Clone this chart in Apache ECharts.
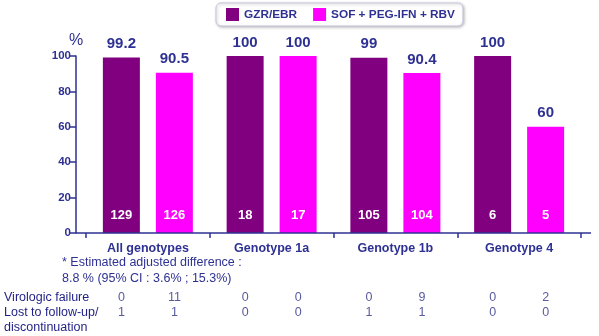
<!DOCTYPE html>
<html>
<head>
<meta charset="utf-8">
<script src="https://cdn.jsdelivr.net/npm/echarts@6/dist/echarts.min.js"></script>
<style>
  html, body { margin: 0; padding: 0; background: #fff; }
  #chart { width: 599px; height: 336px; }
</style>
</head>
<body>
<div id="chart"></div>
<script>
// SVR rates by genotype, two treatment arms
const categories = ['All genotypes', 'Genotype 1a', 'Genotype 1b', 'Genotype 4'];
const seriesNames = ['GZR/EBR', 'SOF + PEG-IFN + RBV'];
const gzrEbr = [99.2, 100, 99, 100];
const sofPegRbv = [90.5, 100, 90.4, 60];
// patients with SVR (count shown inside each bar)
const nGzrEbr = [129, 18, 105, 6];
const nSofPegRbv = [126, 17, 104, 5];
// outcome table under the chart
const rowLabels = ['Virologic failure', ['Lost to follow-up/', 'discontinuation']];
const virologicGzr = [0, 0, 0, 0];
const virologicSof = [11, 0, 9, 2];
const lostGzr = [1, 0, 1, 0];
const lostSof = [1, 0, 1, 0];
const yMin = 0, yMax = 100, yStep = 20;
const footnote = ['* Estimated adjusted difference :', '8.8 % (95% CI : 3.6% ; 15.3%)'];

const NAVY = '#2e3192';
const PURPLE = '#800080';
const MAGENTA = '#ff00ff';
const FONT = 'Liberation Sans, Arial, sans-serif';
const BAR_W = 37, BAR_GAP = 16;
const GRID = { left: 86, right: 18, top: 56, bottom: 103 };
const Y_OFFSET = 10;

const chart = echarts.init(document.getElementById('chart'), null, { renderer: 'canvas' });

const catAxis = (show) => ({
  type: 'category',
  data: categories,
  show: show,
  axisLine: { show: false },
  axisTick: { show: show, length: 5, lineStyle: { color: NAVY, width: 1.5 } },
  axisLabel: {
    show: show, margin: 9, color: NAVY, fontWeight: 'bold', fontSize: 12.5,
    fontFamily: FONT
  }
});

const mainBar = (name, data, color) => ({
  name: name,
  type: 'bar',
  xAxisIndex: 0,
  data: data,
  barWidth: BAR_W,
  barGap: (BAR_GAP / BAR_W * 100) + '%',
  itemStyle: { color: color },
  label: {
    show: true, position: 'top', distance: 6,
    color: NAVY, fontWeight: 'bold', fontSize: 15,
    fontFamily: FONT
  }
});

const countBar = (data, counts) => ({
  type: 'bar',
  xAxisIndex: 1,
  data: data,
  barWidth: BAR_W,
  barGap: (BAR_GAP / BAR_W * 100) + '%',
  silent: true,
  itemStyle: { color: 'rgba(0,0,0,0)' },
  label: {
    show: true, position: 'insideBottom', distance: 11,
    color: '#ffffff', fontWeight: 'bold', fontSize: 13,
    fontFamily: FONT,
    formatter: (p) => String(counts[p.dataIndex])
  }
});

chart.setOption({
  animation: false,
  backgroundColor: '#ffffff',
  grid: GRID,
  legend: {
    data: seriesNames,
    left: 216, top: 3,
    icon: 'rect', itemWidth: 13, itemHeight: 13, itemGap: 16,
    padding: [5, 8, 5, 10],
    backgroundColor: '#ffffff',
    borderColor: '#c6c6dc', borderWidth: 1, borderRadius: 5,
    shadowBlur: 3, shadowColor: 'rgba(0,0,0,0.25)', shadowOffsetX: 1, shadowOffsetY: 1,
    textStyle: { color: NAVY, fontWeight: 'bold', fontSize: 11.8, fontFamily: FONT }
  },
  xAxis: [catAxis(true), catAxis(false)],
  yAxis: {
    type: 'value', min: yMin, max: yMax, interval: yStep,
    offset: Y_OFFSET,
    name: '%', nameGap: 7,
    nameTextStyle: { color: NAVY, fontSize: 16, fontFamily: FONT, align: 'center' },
    splitLine: { show: false },
    axisLine: { show: true, lineStyle: { color: NAVY, width: 1.5 } },
    axisTick: { show: true, length: 6, lineStyle: { color: NAVY, width: 1.5 } },
    axisLabel: { margin: 5, color: NAVY, fontWeight: 'bold', fontSize: 11.5, fontFamily: FONT }
  },
  series: [
    mainBar(seriesNames[0], gzrEbr, PURPLE),
    mainBar(seriesNames[1], sofPegRbv, MAGENTA),
    countBar(gzrEbr, nGzrEbr),
    countBar(sofPegRbv, nSofPegRbv)
  ]
});

// x-axis baseline, table and footnote drawn once the scales are known
const zeroY = chart.convertToPixel({ yAxisIndex: 0 }, 0);
const axisX = GRID.left - Y_OFFSET;
const W = chart.getWidth();
const half = (BAR_W + BAR_GAP) / 2;
const graphics = [{
  type: 'line',
  shape: { x1: axisX, y1: zeroY, x2: W - GRID.right + 10, y2: zeroY },
  style: { stroke: NAVY, lineWidth: 1.5 },
  z: 10
}];

const textFont = '12.5px "Liberation Sans", Arial, sans-serif';
footnote.forEach((line, i) => {
  graphics.push({
    type: 'text', left: 62, top: 256 + i * 16,
    style: { text: line, font: textFont, fill: NAVY }
  });
});

const rows = [
  { label: rowLabels[0], a: virologicGzr, b: virologicSof, y: 298 },
  { label: rowLabels[1], a: lostGzr, b: lostSof, y: 313 }
];
rows.forEach((row) => {
  const lines = Array.isArray(row.label) ? row.label : [row.label];
  lines.forEach((t, k) => {
    graphics.push({
      type: 'text', x: 4, y: row.y + k * 15,
      style: { text: t, font: textFont, fill: '#1f1f85', textVerticalAlign: 'middle' }
    });
  });
  categories.forEach((c, i) => {
    const cx = chart.convertToPixel({ xAxisIndex: 0 }, i);
    [[row.a[i], -half], [row.b[i], half]].forEach(([v, dx]) => {
      graphics.push({
        type: 'text', x: cx + dx, y: row.y,
        style: { text: String(v), font: textFont, fill: '#5a5aa0', textAlign: 'center', textVerticalAlign: 'middle' }
      });
    });
  });
});

chart.setOption({ graphic: graphics });
</script>
</body>
</html>
